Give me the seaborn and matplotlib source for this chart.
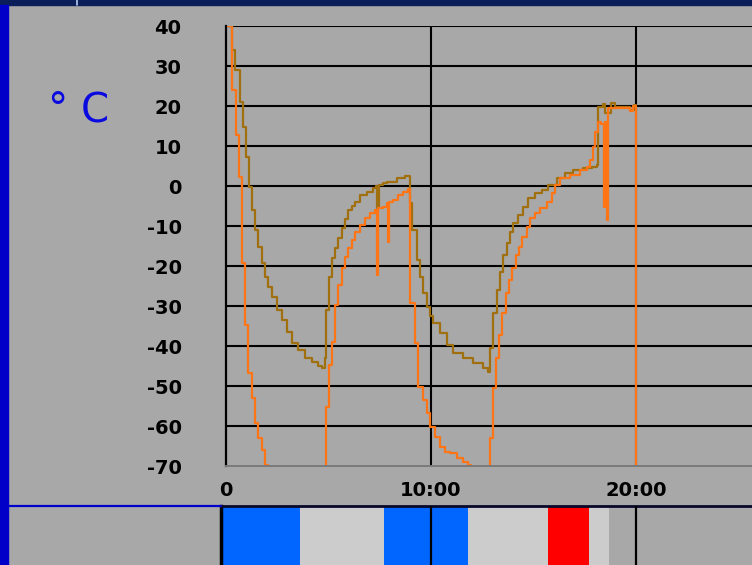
import matplotlib
matplotlib.use("Agg")
import matplotlib.pyplot as plt
import pandas as pd
import seaborn as sns
from matplotlib.lines import Line2D
from matplotlib.patches import Rectangle

# -------------- data (time in minutes, temperature in °C) --------------
brown_t = [0.0, 0.3, 0.44, 0.68, 0.85, 0.98, 1.14, 1.28, 1.41, 1.58, 1.75, 1.9, 2.06, 2.23,
           2.47, 2.72, 2.96, 3.2, 3.5, 3.85, 4.18, 4.5, 4.7, 4.82, 4.88, 5.0, 5.15, 5.32,
           5.48, 5.64, 5.8, 5.97, 6.13, 6.29, 6.54, 6.86, 7.19, 7.3, 7.38, 7.45, 7.67,
           7.85, 8.33, 8.73, 8.98, 9.05, 9.3, 9.46, 9.63, 9.79, 9.95, 10.1, 10.44, 10.77,
           11.09, 11.58, 12.06, 12.55, 12.8, 12.88, 13.04, 13.2, 13.37, 13.53, 13.69,
           13.85, 14.02, 14.26, 14.5, 14.75, 15.07, 15.4, 15.72, 16.13, 16.54, 16.94,
           17.43, 17.84, 18.08, 18.16, 18.4, 18.5, 18.8, 18.96, 19.7, 19.9, 20.0]
brown_temp = [40, 34, 29, 21.1, 14.8, 7.3, -0.2, -6, -11, -15.2, -19.3, -22.7, -25.2, -27.7,
              -31, -33.5, -36.4, -39.3, -41, -43.1, -44, -45, -45.5, -43, -31, -22.7, -18.1,
              -15.6, -13.1, -10.4, -8.3, -6, -4.9, -3.9, -2.25, -1.4, -0.6, 0, -5.5, 0.3,
              0.8, 1.1, 1.9, 2.5, -4.3, -11, -18.5, -22.7, -26.8, -30.2, -32.5, -34.3,
              -36.8, -39.75, -41.8, -43.1, -44.3, -45.6, -46.4, -40.5, -31.8, -26, -21.4,
              -17.25, -14.3, -11.4, -9.3, -7.25, -5.2, -3.1, -1.8, -1, 0.25, 1.9, 3.2, 4,
              4.4, 4.8, 5.25, 19.8, 20.5, 18.2, 20.7, 19.7, 19, 20.25, 20.25]

orange_t = [0.0, 0.28, 0.49, 0.65, 0.8, 0.93, 1.09, 1.25, 1.41, 1.58, 1.74, 1.9, 2.05,
            4.87, 5.0, 5.15, 5.32, 5.48, 5.64, 5.8, 5.97, 6.13, 6.29, 6.54, 6.78, 7.03,
            7.27, 7.36, 7.4, 7.67, 7.84, 7.92, 7.96, 8.16, 8.41, 8.65, 8.89, 8.98, 9.22,
            9.38, 9.63, 9.79, 9.95, 10.2, 10.44, 10.7, 10.93, 11.25, 11.58, 11.82, 11.95,
            12.88, 13.0, 13.17, 13.33, 13.48, 13.64, 13.8, 13.97, 14.13, 14.29, 14.45,
            14.67, 14.83, 15.07, 15.32, 15.64, 15.88, 16.05, 16.29, 16.78, 17.27, 17.6,
            17.76, 17.92, 18.0, 18.16, 18.3, 18.45, 18.5, 18.6, 18.65, 19.7, 19.85, 20.0]
orange_temp = [40, 24, 12.75, 2.3, -19.3, -34.75, -46.8, -53.1, -59.3, -63.1, -66, -69.75,
               -85, -55.2, -44.75, -38.9, -29.75, -24.75, -20.6, -17.7, -15.6, -13.5, -11.4,
               -9.75, -8.1, -6.8, -6, -22.25, -5.5, -5.2, -4.3, -13.9, -4, -3.5, -2.25,
               -1.4, -0.8, -29.3, -39.3, -50.2, -53.5, -56.8, -60.2, -62.7, -65.2, -66.4,
               -66.8, -68.1, -68.9, -69.75, -85, -63.1, -50.6, -43.1, -37.25, -31.8, -26.8,
               -23.5, -20.6, -17.25, -15.2, -12.7, -10.2, -8.1, -6.8, -5.6, -3.9, -1.8,
               0.25, 1.9, 2.75, 4, 4.8, 6.5, 9.8, 13.6, 16.1, 15.5, -5.2, 16, -8.5, 19.4,
               18.8, 20, -85]

# process stages shown in the strip under the chart
stage_start = [-0.25, 3.6, 7.7, 11.8, 15.7, 17.7, 18.7]
stage_end = [3.6, 7.7, 11.8, 15.7, 17.7, 18.7, 20.0]
stage_color = ["#0066FF", "#CCCCCC", "#0066FF", "#CCCCCC", "#FF0000", "#CCCCCC", "#A8A8A8"]

y_ticks = [-70, -60, -50, -40, -30, -20, -10, 0, 10, 20, 30, 40]
x_ticks = [0, 10, 20]
x_tick_labels = ["0", "10:00", "20:00"]

bg = "#A8A8A8"
brown = "#A0700F"
orange = "#FF7414"

brown_df = pd.DataFrame({"t": brown_t, "temp": brown_temp})
orange_df = pd.DataFrame({"t": orange_t, "temp": orange_temp})

sns.set_style("white")
plt.rcParams['font.family'] = ['DejaVu Sans']

W, H = 752, 565
fig = plt.figure(figsize=(W / 100, H / 100), dpi=100, facecolor=bg)

# -------------- main temperature chart --------------
ax = fig.add_axes([226 / W, 99 / H, 526 / W, 440 / H])
ax.set_facecolor(bg)

sns.lineplot(data=brown_df, x="t", y="temp", ax=ax, color=brown, lw=1.6,
             drawstyle="steps-post", estimator=None, sort=False)
sns.lineplot(data=orange_df, x="t", y="temp", ax=ax, color=orange, lw=1.6,
             drawstyle="steps-post", estimator=None, sort=False)

ax.set_xlim(0, 526 / 20.5)
ax.set_ylim(-70, 40)
ax.set_yticks(y_ticks)
ax.set_yticklabels([str(v) for v in y_ticks])
ax.set_xticks(x_ticks)
ax.set_xticklabels(x_tick_labels)
ax.set_xlabel("")
ax.set_ylabel("")

ax.set_axisbelow(True)
ax.grid(True, color="black", lw=1.5)
ax.get_ygridlines()[0].set_visible(False)
ax.get_xgridlines()[0].set_visible(False)

for side in ["top", "right"]:
    ax.spines[side].set_visible(False)
ax.spines["left"].set_color("black")
ax.spines["left"].set_linewidth(1.6)
ax.spines["bottom"].set_color("#7A7A7A")
ax.spines["bottom"].set_linewidth(1.4)

ax.tick_params(axis="y", length=3, width=1.5, color="black", pad=29,
               labelsize=14, labelcolor="black")
ax.tick_params(axis="x", length=5, width=1.5, color="black", pad=6,
               labelsize=14, labelcolor="black")
for lab in ax.get_xticklabels() + ax.get_yticklabels():
    lab.set_fontweight("bold")

fig.text(79 / W, 1 - 111 / H, "° C", color="#0A0AE0", fontsize=29,
         ha="center", va="center")

# -------------- stage strip --------------
ax2 = fig.add_axes([221 / W, 0, 531 / W, 59 / H])
ax2.set_facecolor(bg)
durations = [e - s for s, e in zip(stage_start, stage_end)]
ax2.barh(0.5, durations, left=stage_start, height=1, color=stage_color, linewidth=0)
ax2.set_xlim(-5 / 20.5, 526 / 20.5)
ax2.set_ylim(0, 1)
ax2.set_xticks(x_ticks[1:])
ax2.set_yticks([])
ax2.tick_params(axis="x", length=0, labelbottom=False)
ax2.grid(True, axis="x", color="black", lw=1.6)
ax2.set_axisbelow(False)
for side in ["bottom", "right"]:
    ax2.spines[side].set_visible(False)
ax2.spines["top"].set_color("#08082A")
ax2.spines["top"].set_linewidth(2)
ax2.spines["left"].set_color("black")
ax2.spines["left"].set_linewidth(2.5)

# -------------- window frame --------------
fig.add_artist(Line2D([8 / W, 221 / W], [59 / H, 59 / H], color="#0000CC", lw=1.6,
                      transform=fig.transFigure))
fig.add_artist(Rectangle((0, 1 - 5 / H), 1, 5 / H, color="#0A1E5A",
                         transform=fig.transFigure, zorder=5))
fig.add_artist(Line2D([77 / W, 77 / W], [1 - 5 / H, 1], color="#B8C8F0", lw=1.2,
                      transform=fig.transFigure, zorder=6))
fig.add_artist(Rectangle((0, 0), 8 / W, 1 - 5 / H, color="#0000C8",
                         transform=fig.transFigure, zorder=5))

fig.savefig("out.png", dpi=100, facecolor=bg)
